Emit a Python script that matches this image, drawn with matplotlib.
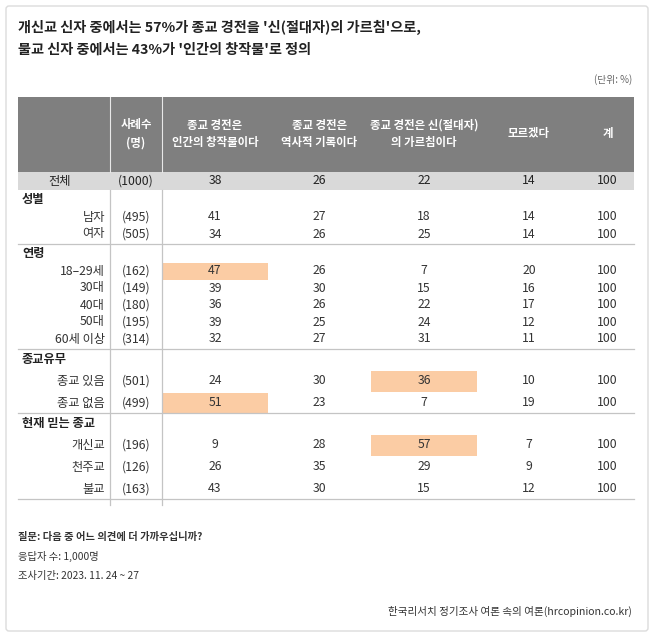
import matplotlib
matplotlib.use("Agg")
import matplotlib.pyplot as plt
from matplotlib.patches import Rectangle, FancyBboxPatch

plt.rcParams['font.family'] = ['Noto Sans CJK KR', 'DejaVu Sans']

# ---------------- data ----------------
title_lines = ["개신교 신자 중에서는 57%가 종교 경전을 '신(절대자)의 가르침'으로,",
               "불교 신자 중에서는 43%가 '인간의 창작물'로 정의"]
unit_text = "(단위: %)"
col_headers = ["종교 경전은\n인간의 창작물이다", "종교 경전은\n역사적 기록이다",
               "종교 경전은 신(절대자)\n의 가르침이다", "모르겠다", "계"]
n_header = "사례수\n(명)"

total_label = "전체"
total_n = "(1000)"
total_vals = [38, 26, 22, 14, 100]

groups = ["성별", "연령", "종교유무", "현재 믿는 종교"]
group_rows = [
    ["남자", "여자"],
    ["18–29세", "30대", "40대", "50대", "60세 이상"],
    ["종교 있음", "종교 없음"],
    ["개신교", "천주교", "불교"],
]
group_n = [
    ["(495)", "(505)"],
    ["(162)", "(149)", "(180)", "(195)", "(314)"],
    ["(501)", "(499)"],
    ["(196)", "(126)", "(163)"],
]
group_vals = [
    [[41, 27, 18, 14, 100], [34, 26, 25, 14, 100]],
    [[47, 26, 7, 20, 100], [39, 30, 15, 16, 100], [36, 26, 22, 17, 100],
     [39, 25, 24, 12, 100], [32, 27, 31, 11, 100]],
    [[24, 30, 36, 10, 100], [51, 23, 7, 19, 100]],
    [[9, 28, 57, 7, 100], [26, 35, 29, 9, 100], [43, 30, 15, 12, 100]],
]
# highlighted cells: (group, row, column)
highlights = [(1, 0, 0), (2, 0, 2), (2, 1, 0), (3, 0, 2)]

footer_lines = ["질문: 다음 중 어느 의견에 더 가까우십니까?", "응답자 수: 1,000명",
                "조사기간: 2023. 11. 24 ~ 27"]
source_text = "한국리서치 정기조사 여론 속의 여론(hrcopinion.co.kr)"

# ---------------- layout ----------------
W, H = 654, 637
fig = plt.figure(figsize=(W / 100, H / 100), dpi=100)
ax = fig.add_axes([0, 0, 1, 1])
ax.set_xlim(0, W)
ax.set_ylim(H, 0)
ax.axis('off')

TXT = '#333333'
HDR = '#7f7f7f'
TOT = '#d9d9d9'
HIL = '#fbcca4'
LINE = '#c4c4c4'
FS = 8.8

ax.add_patch(FancyBboxPatch((6, 6), 642, 625, boxstyle="round,pad=0,rounding_size=3",
                            facecolor='white', edgecolor='#dcdcdc', lw=1.0, zorder=0))

# title
for i, t in enumerate(title_lines):
    ax.text(18, 27 + i * 23, t, fontsize=10.2, color='#222222', fontweight='bold',
            va='center', ha='left')
ax.text(632, 80, unit_text, fontsize=7.0, color='#666666', ha='right', va='center')

left, right = 18, 634
col_edges = [162, 268, 371, 477, 581, 634]
col_centers = [(col_edges[i] + col_edges[i + 1]) / 2 for i in range(5)]
n_x = 136
sep_x = [110, 162]

# header
hdr_top, hdr_bot = 97, 172
ax.add_patch(Rectangle((left, hdr_top), right - left, hdr_bot - hdr_top, facecolor=HDR, lw=0, zorder=1))
for xs in sep_x:
    ax.plot([xs, xs], [hdr_top, hdr_bot], color='#e8e8e8', lw=0.8, zorder=2)
hy = 134
ax.text(n_x, hy, n_header, fontsize=8.2, color='white', ha='center', va='center',
        linespacing=1.55, fontweight='bold', zorder=3)
for cx, h in zip(col_centers, col_headers):
    ax.text(cx, hy, h, fontsize=8.2, color='white', ha='center', va='center',
            linespacing=1.45, fontweight='bold', zorder=3)

# total row
tot_top, tot_bot = 172, 190
ax.add_patch(Rectangle((left, tot_top), right - left, tot_bot - tot_top, facecolor=TOT, lw=0, zorder=1))
ty = (tot_top + tot_bot) / 2
ax.text(60, ty, total_label, fontsize=FS, color='#222222', ha='center', va='center', zorder=3)
ax.text(n_x, ty, total_n, fontsize=FS, color='#222222', ha='center', va='center', zorder=3)
for cx, v in zip(col_centers, total_vals):
    ax.text(cx, ty, str(v), fontsize=FS, color='#222222', ha='center', va='center', zorder=3)

# body
row_h = [17, 17, 22, 22]
y0 = tot_bot
table_bottom = None
for g, gname in enumerate(groups):
    h = row_h[g]
    title_y = y0 + 10
    ax.text(22, title_y, gname, fontsize=FS, color='#222222', fontweight='bold',
            ha='left', va='center', zorder=3)
    last = title_y
    for r, lab in enumerate(group_rows[g]):
        ry = title_y + h * (r + 1)
        last = ry
        for c in range(5):
            if (g, r, c) in highlights:
                ax.add_patch(Rectangle((col_edges[c], ry - h / 2 + 0.5), col_edges[c + 1] - col_edges[c],
                                       h - 0.5, facecolor=HIL, lw=0, zorder=1.5))
        ax.text(105, ry, lab, fontsize=FS, color=TXT, ha='right', va='center', zorder=3)
        ax.text(n_x, ry, group_n[g][r], fontsize=FS, color=TXT, ha='center', va='center', zorder=3)
        for cx, v in zip(col_centers, group_vals[g][r]):
            ax.text(cx, ry, str(v), fontsize=FS, color=TXT, ha='center', va='center', zorder=3)
    line_y = last + 10
    ax.plot([left, right], [line_y, line_y], color=LINE, lw=0.9, zorder=2)
    y0 = line_y
    table_bottom = line_y

for xs in sep_x:
    ax.plot([xs, xs], [tot_bot, table_bottom + 6], color=LINE, lw=0.9, zorder=2)

# footer
for i, t in enumerate(footer_lines):
    ax.text(18, 537 + i * 19.5, t, fontsize=7.4, color='#333333',
            fontweight='bold' if i == 0 else 'normal', ha='left', va='center')
ax.text(632, 611, source_text, fontsize=7.6, color='#333333', ha='right', va='center')

fig.savefig("out.png", dpi=100)
